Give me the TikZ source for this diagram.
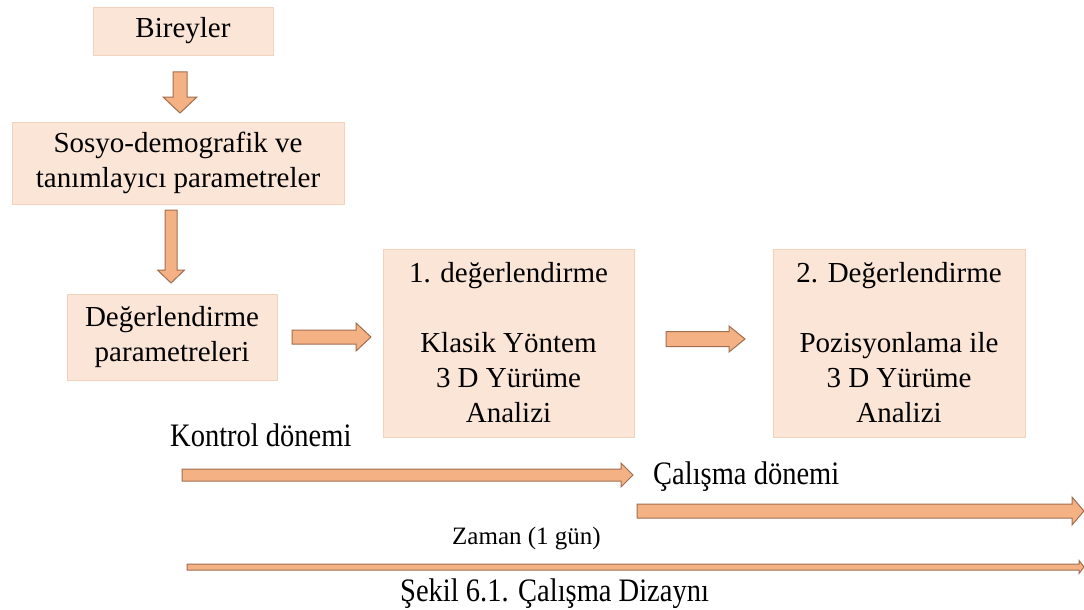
\documentclass[tikz,border=0pt]{standalone}
\usepackage{fontspec}
\usepackage{graphicx}
\setmainfont{Liberation Serif}
\usetikzlibrary{calc}
\definecolor{boxfill}{HTML}{FBE5D6}
\definecolor{boxline}{HTML}{F2D2BC}
\definecolor{arrfill}{HTML}{F4B183}
\definecolor{arrline}{HTML}{A06E50}
\tikzset{
  stepbox/.style={fill=boxfill, draw=boxline, line width=0.8pt, align=center, inner sep=0pt,
    font=\fontsize{29}{35}\selectfont},
  barrowstyle/.style={fill=arrfill, draw=arrline, line width=1pt, line join=miter},
  lbl/.style={inner sep=0pt, font=\fontsize{28.5}{35}\selectfont},
}
\newcommand{\tallish}[1]{\scalebox{1}[1.15]{#1}}
% #1 start, #2 end, #3 shaft half width, #4 head half width, #5 head length
\newcommand{\blockarrow}[5]{%
  \coordinate (bh) at ($(#2)!#5!(#1)$);
  \draw[barrowstyle] ($(#1)!#3!90:(#2)$) -- ($(bh)!#3!90:(#2)$) -- ($(bh)!#4!90:(#2)$)
    -- (#2) -- ($(bh)!#4!-90:(#2)$) -- ($(bh)!#3!-90:(#2)$) -- ($(#1)!#3!-90:(#2)$) -- cycle;}
\begin{document}
\begin{tikzpicture}[x=1pt,y=-1pt]
\useasboundingbox[fill=white] (0,0) rectangle (1084,610);

\node[stepbox, minimum width=180pt, minimum height=48pt] (bir) at (183,31) {Bireyler};
\node[stepbox, minimum width=332pt, minimum height=82pt] (sos) at (178,163) {Sosyo-demografik ve\\tanımlayıcı parametreler};
\node[stepbox, minimum width=210pt, minimum height=86pt] (deg) at (172,337) {Değerlendirme\\parametreleri};
\node[stepbox, minimum width=251pt, minimum height=188pt] (d1) at (508.5,343) {1. değerlendirme\\[35pt]Klasik Yöntem\\3 D Yürüme\\Analizi};
\node[stepbox, minimum width=252pt, minimum height=188pt] (d2) at (899,343) {2. Değerlendirme\\[35pt]Pozisyonlama ile\\3 D Yürüme\\Analizi};

% vertical arrows
\coordinate (a1s) at (180,72);
\coordinate (a1e) at (180,113);
\blockarrow{a1s}{a1e}{7pt}{17pt}{16pt}
\coordinate (a2s) at (171,210);
\coordinate (a2e) at (171,283);
\blockarrow{a2s}{a2e}{6pt}{13.5pt}{13pt}
% horizontal arrows
\coordinate (a3s) at (292,337);
\coordinate (a3e) at (371,337);
\blockarrow{a3s}{a3e}{7pt}{14pt}{15pt}
\coordinate (a4s) at (666,339);
\coordinate (a4e) at (745,339);
\blockarrow{a4s}{a4e}{7.5pt}{13pt}{16pt}

% time line
\node[lbl, anchor=base west] (kon) at (170,446) {\tallish{Kontrol dönemi}};
\coordinate (ks) at (182,475);
\coordinate (ke) at (633,475);
\blockarrow{ks}{ke}{6pt}{12pt}{12pt}
\node[lbl, anchor=base west] (cal) at (653,484) {\tallish{Çalışma dönemi}};
\coordinate (cs) at (637,511);
\coordinate (ce) at (1084,511);
\blockarrow{cs}{ce}{7pt}{14pt}{12pt}
\node[lbl, anchor=base west, font=\fontsize{25}{30}\selectfont] (zam) at (452,544) {Zaman (1 gün)};
\coordinate (zs) at (187,567);
\coordinate (ze) at (1084,567);
\blockarrow{zs}{ze}{3pt}{6.5pt}{5pt}

\node[lbl, anchor=base west] (cap) at (400,601) {\tallish{Şekil 6.1. Çalışma Dizaynı}};
\end{tikzpicture}
\end{document}
